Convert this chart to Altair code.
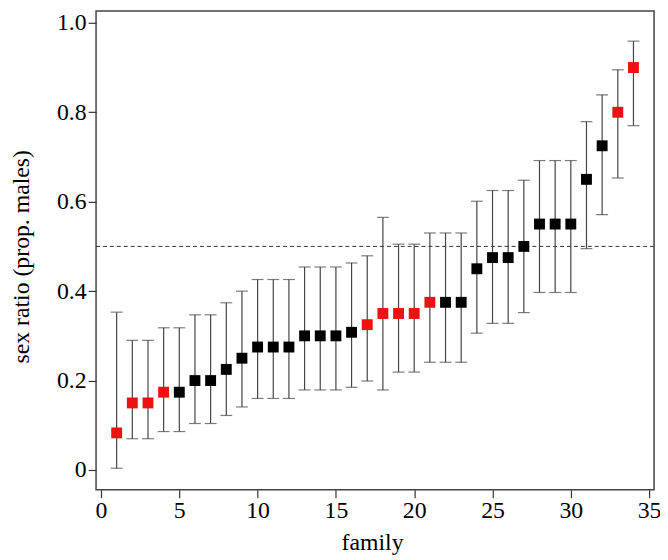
import altair as alt
import pandas as pd

family = list(range(1, 35))
ratio = [0.083, 0.15, 0.15, 0.174, 0.174, 0.2, 0.2, 0.225, 0.25, 0.275, 0.275, 0.275,
         0.3, 0.3, 0.3, 0.308, 0.325, 0.35, 0.35, 0.35, 0.375, 0.375, 0.375, 0.45,
         0.475, 0.475, 0.5, 0.55, 0.55, 0.55, 0.65, 0.725, 0.8, 0.9]
lower = [0.004, 0.07, 0.07, 0.086, 0.086, 0.104, 0.104, 0.122, 0.141, 0.16, 0.16, 0.16,
         0.179, 0.179, 0.179, 0.185, 0.199, 0.179, 0.219, 0.219, 0.241, 0.241, 0.241, 0.306,
         0.328, 0.328, 0.352, 0.397, 0.397, 0.397, 0.495, 0.571, 0.653, 0.77]
upper = [0.353, 0.29, 0.29, 0.318, 0.318, 0.347, 0.347, 0.374, 0.40, 0.426, 0.426, 0.426,
         0.454, 0.454, 0.454, 0.463, 0.479, 0.565, 0.505, 0.505, 0.53, 0.53, 0.53, 0.601,
         0.625, 0.625, 0.648, 0.692, 0.692, 0.692, 0.779, 0.839, 0.895, 0.959]
red_families = [1, 2, 3, 4, 17, 18, 19, 20, 21, 33, 34]
reference_line = [0.5]

df = pd.DataFrame({"family": family, "ratio": ratio, "lower": lower, "upper": upper})
df["group"] = ["red" if f in red_families else "black" for f in family]
ref = pd.DataFrame({"y": reference_line})

FONT = "Liberation Serif"

xscale = alt.Scale(domain=[-0.316, 35.316], nice=False, zero=False)
yscale = alt.Scale(domain=[-0.0442, 1.0266], nice=False, zero=False)

xaxis = alt.Axis(values=[0, 5, 10, 15, 20, 25, 30, 35], tickSize=8, tickColor="#333",
                 tickWidth=1.2, grid=False, domain=False, labelFont=FONT, labelFontSize=24,
                 labelColor="black", labelPadding=1, titleFont=FONT, titleFontSize=24,
                 titleFontWeight="normal", titleColor="black", title="family",
                 titleX=279, titleY=53, titleBaseline="middle")
yaxis = alt.Axis(values=[0, 0.2, 0.4, 0.6, 0.8, 1.0], tickSize=8, tickColor="#333",
                 tickWidth=1.2, grid=False, domain=False, labelFont=FONT, labelFontSize=24,
                 labelColor="black", labelPadding=2,
                 labelExpr="datum.value == 0 ? '0' : format(datum.value, '.1f')",
                 titleFont=FONT, titleFontSize=24, titleFontWeight="normal",
                 titleColor="black", title="sex ratio (prop. males)",
                 titleX=-75, titleY=248, titleBaseline="middle", titleAngle=-90)

base = alt.Chart(df)

dash = alt.Chart(ref).mark_rule(color="#333", strokeWidth=1, strokeDash=[4, 3]).encode(
    y=alt.Y("y:Q", scale=yscale, axis=yaxis)
)

bars = base.mark_rule(color="#444", strokeWidth=1.2).encode(
    x=alt.X("family:Q", scale=xscale, axis=xaxis),
    y=alt.Y("lower:Q", scale=yscale, axis=yaxis),
    y2="upper:Q",
)

cap_lo = base.mark_tick(orient="horizontal", color="#444", size=12, thickness=1.2).encode(
    x=alt.X("family:Q", scale=xscale),
    y=alt.Y("lower:Q", scale=yscale),
)
cap_hi = base.mark_tick(orient="horizontal", color="#444", size=12, thickness=1.2).encode(
    x=alt.X("family:Q", scale=xscale),
    y=alt.Y("upper:Q", scale=yscale),
)

points = base.mark_square(size=121, opacity=1).encode(
    x=alt.X("family:Q", scale=xscale),
    y=alt.Y("ratio:Q", scale=yscale),
    color=alt.Color("group:N", scale=alt.Scale(domain=["red", "black"],
                                                range=["#ee1111", "#000000"]), legend=None),
)

chart = alt.layer(dash, bars, cap_lo, cap_hi, points).properties(
    width=564, height=484,
    autosize=alt.AutoSizeParams(type="none"),
    padding={"left": 89, "top": 0, "right": 6, "bottom": 66},
    view=alt.ViewBackground(stroke="#444", strokeWidth=1.5),
).configure(background="white").configure_view(stroke="#444", strokeWidth=1.5)

chart.save("out.html", embed_options={"renderer": "svg", "actions": False})
